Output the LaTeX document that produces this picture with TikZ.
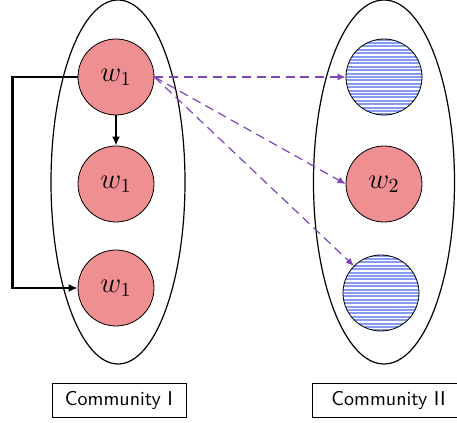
\documentclass[tikz,border=0pt]{standalone}
\usetikzlibrary{arrows.meta}
\definecolor{commred}{RGB}{238,143,146}
\definecolor{stripeblue}{RGB}{135,155,245}
\definecolor{linkviolet}{RGB}{125,70,185}
\begin{document}
\begin{tikzpicture}[x=1pt,y=1pt,
    member/.style={circle,draw,fill=commred,minimum size=38pt,inner sep=0pt,font=\Large},
    hidden/.style={circle,draw,minimum size=38pt,inner sep=0pt,
      path picture={\foreach \k in {-11,...,11}
        \draw[stripeblue,line width=1pt] ([shift={(-20pt,\k*1.7pt)}]path picture bounding box.center) -- ++(40pt,0);}},
    commlabel/.style={draw,font=\sffamily,minimum height=17pt,inner ysep=0pt},
    link/.style={linkviolet,line width=0.6pt,dash pattern=on 4.5pt off 2.8pt,-{Latex[length=4pt,width=3.5pt]}},
    move/.style={line width=1.2pt,-{Latex[length=4.5pt,width=4pt]}}]
  \useasboundingbox (0,0) rectangle (228.5,211.5);
  % the two communities
  \draw[semithick] (59,120.5) ellipse [x radius=33.5, y radius=91];
  \draw[semithick] (192,120.5) ellipse [x radius=35.25, y radius=91];
  \draw
    (58,173) node[member] (l1) {$w_1$}
    (58,119.5) node[member] (l2) {$w_1$}
    (58,67.5) node[member] (l3) {$w_1$}
    (192,173) node[hidden] (r1) {}
    (192,119.5) node[member] (r2) {$w_2$}
    (190.5,65) node[hidden] (r3) {};
  \node[commlabel,minimum width=67pt] (c1) at (59.5,11.5) {Community I};
  \node[commlabel,minimum width=76.5pt] (c2) at (194.25,11.5) {Community II};
  \begin{scope}
    \draw[move] (l1) -- (l2);
    \draw[move] (l1.west) -- ++(-32.5,0) |- (l3.west);
    \draw[link] (l1.east) -- (r1.west);
    \draw[link] (l1.east) -- (r2.west);
    \draw[link] (l1.east) -- (r3.north west);
  \end{scope}
\end{tikzpicture}
\end{document}
